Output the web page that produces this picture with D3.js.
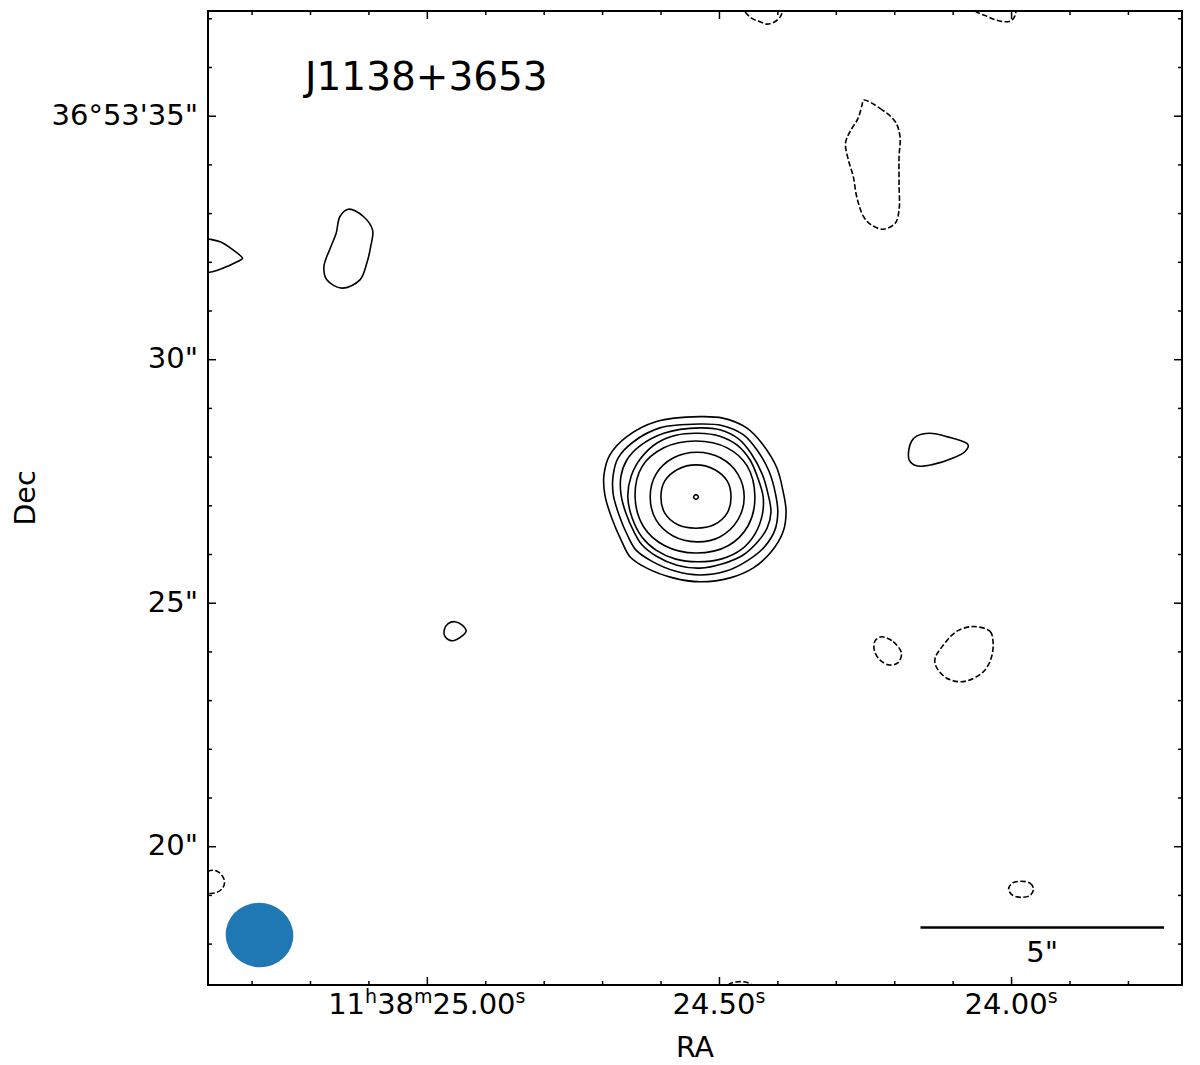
<!DOCTYPE html>
<html>
<head>
<meta charset="utf-8">
<style>
  body { margin: 0; background: #fff; }
  svg text { font-family: "DejaVu Sans", sans-serif; fill: #000; }
  .contour { fill: none; stroke: #000; stroke-width: 1.6px; }
  .neg { stroke-dasharray: 5.5, 2.4; }
  .tick line { stroke: #000; stroke-width: 1.5px; }
</style>
</head>
<body>
<svg width="1200" height="1065"></svg>
<script src="https://cdn.jsdelivr.net/npm/d3@7/dist/d3.min.js"></script>
<script>

// field: centre of map in RA seconds (11h38m..) and Dec arcsec (+36d53'..), size in arcsec
var raCenter = 24.541,
    decCenter = 27.15,
    decDegrees = 36.892,
    fieldSize = 20;

var raMajor = [25.00, 24.50, 24.00],
    raMinor = [25.3, 25.2, 25.1, 24.9, 24.8, 24.7, 24.6, 24.4, 24.3, 24.2, 24.1, 23.9, 23.8],
    raTickLabels = ["11^h38^m25.00^s", "24.50^s", "24.00^s"];

var decMajor = [20, 25, 30, 35],
    decMinor = [18, 19, 21, 22, 23, 24, 26, 27, 28, 29, 31, 32, 33, 34, 36, 37],
    decTickLabels = ['20"', '25"', '30"', '36°53\'35"'];

var title = "J1138+3653";
var beam = {major: 1.39, minor: 1.32, pa: 80}; // arcsec, degrees
var scaleBar = 5; // arcsec

// contours: [east offset, north offset] in arcsec from the map centre
// positive levels (solid)
var core1 = [[-0.10,1.67],[-0.57,1.64],[-1.06,1.44],[-1.40,1.09],[-1.68,0.62],[-1.81,0.13],[-1.87,-0.28],[-1.81,-0.69],[-1.57,-1.10],[-1.19,-1.44],[-0.72,-1.64],[-0.10,-1.72],[0.45,-1.64],[0.99,-1.44],[1.33,-1.21],[1.50,-0.90],[1.71,-0.41],[1.85,0.06],[1.87,0.47],[1.75,0.88],[1.40,1.26],[0.79,1.57]];
var core2 = [[-0.10,1.52],[-0.55,1.49],[-0.99,1.30],[-1.27,0.99],[-1.52,0.55],[-1.65,0.10],[-1.70,-0.29],[-1.64,-0.66],[-1.42,-1.01],[-1.07,-1.29],[-0.64,-1.50],[-0.10,-1.58],[0.41,-1.50],[0.90,-1.29],[1.21,-1.07],[1.38,-0.78],[1.56,-0.35],[1.68,0.08],[1.68,0.47],[1.58,0.82],[1.27,1.15],[0.72,1.44]];
var core3 = [[-0.10,1.44],[-0.51,1.40],[-0.90,1.21],[-1.15,0.92],[-1.38,0.49],[-1.50,0.08],[-1.56,-0.29],[-1.48,-0.62],[-1.27,-0.92],[-0.99,-1.17],[-0.57,-1.35],[-0.10,-1.44],[0.37,-1.38],[0.80,-1.19],[1.09,-0.96],[1.25,-0.70],[1.42,-0.31],[1.52,0.08],[1.52,0.45],[1.40,0.78],[1.13,1.07],[0.64,1.33]];
var core4 = [[-0.06,1.33],[-0.51,1.27],[-0.86,1.09],[-1.13,0.78],[-1.29,0.41],[-1.40,0.02],[-1.38,-0.35],[-1.23,-0.74],[-0.96,-1.05],[-0.55,-1.25],[-0.06,-1.31],[0.41,-1.25],[0.80,-1.07],[1.09,-0.80],[1.29,-0.41],[1.38,0.02],[1.31,0.45],[1.11,0.82],[0.78,1.13],[0.39,1.29]];
var core5 = [[-0.02,1.17],[-0.66,1.03],[-1.07,0.66],[-1.23,0.02],[-1.09,-0.57],[-0.68,-0.98],[-0.02,-1.13],[0.62,-0.98],[1.05,-0.60],[1.23,0.02],[1.09,0.64],[0.64,1.03]];
var core6 = [[-0.04,0.94],[-0.53,0.82],[-0.88,0.49],[-1.01,0.02],[-0.88,-0.45],[-0.51,-0.80],[-0.04,-0.90],[0.45,-0.78],[0.80,-0.45],[0.92,0.02],[0.80,0.49],[0.45,0.82]];
var core7 = [[-0.02,0.68],[-0.39,0.59],[-0.66,0.35],[-0.74,0.02],[-0.66,-0.31],[-0.39,-0.55],[-0.02,-0.62],[0.35,-0.55],[0.62,-0.31],[0.70,0.02],[0.62,0.35],[0.35,0.59]];
var corePeak = [[-0.02,0.07],[-0.07,0.02],[-0.02,-0.03],[0.03,0.02]];
var blobWest = [[10.27,5.36],[10.00,5.32],[9.75,5.26],[9.48,5.09],[9.34,4.98],[9.29,4.92],[9.38,4.86],[9.57,4.77],[9.82,4.67],[10.00,4.63],[10.27,4.62],[10.59,4.99]];
var blobNW = [[7.12,5.93],[6.81,5.78],[6.62,5.50],[6.66,5.16],[6.74,4.82],[6.88,4.48],[7.25,4.31],[7.56,4.48],[7.62,4.75],[7.49,5.13],[7.37,5.43],[7.29,5.78]];
var blobSW = [[4.93,-2.54],[4.78,-2.61],[4.70,-2.73],[4.78,-2.83],[4.99,-2.93],[5.13,-2.85],[5.15,-2.71],[5.07,-2.58]];
var blobE = [[-4.55,1.27],[-4.82,1.33],[-5.17,1.26],[-5.61,1.09],[-5.54,0.95],[-5.30,0.82],[-4.89,0.69],[-4.55,0.66],[-4.40,0.78],[-4.39,0.99],[-4.45,1.17]];

// negative levels (dashed)
var negNorth = [[-3.46,8.17],[-3.80,8.00],[-4.11,7.73],[-4.21,7.42],[-4.19,7.01],[-4.19,6.46],[-4.19,5.91],[-4.11,5.64],[-3.87,5.52],[-3.63,5.60],[-3.46,5.78],[-3.32,6.19],[-3.25,6.60],[-3.15,6.94],[-3.09,7.28],[-3.18,7.52],[-3.35,7.80],[-3.43,8.07]];
var negTopA = [[-0.92,10.18],[-1.03,9.98],[-1.17,9.85],[-1.33,9.78],[-1.48,9.73],[-1.64,9.78],[-1.75,9.88],[-1.80,10.00],[-1.83,10.18],[-1.38,10.39]];
var negTopB = [[-5.69,10.14],[-5.75,10.00],[-5.95,9.91],[-6.16,9.82],[-6.34,9.78],[-6.49,9.80],[-6.57,9.90],[-6.59,10.00],[-6.59,10.16],[-6.16,10.35]];
var negSE1 = [[-3.83,-2.85],[-4.07,-2.95],[-4.24,-3.19],[-4.17,-3.38],[-4.00,-3.43],[-3.80,-3.33],[-3.68,-3.12],[-3.70,-2.93]];
var negSE2 = [[-5.71,-2.64],[-6.06,-2.74],[-6.12,-2.95],[-6.09,-3.26],[-5.92,-3.57],[-5.51,-3.77],[-5.17,-3.70],[-4.95,-3.46],[-4.93,-3.29],[-5.10,-3.02],[-5.37,-2.74]];
var negSW = [[10.20,-7.88],[10.01,-7.67],[9.85,-7.65],[9.72,-7.74],[9.66,-7.88],[9.70,-8.01],[9.82,-8.10],[9.96,-8.12],[10.10,-8.11]];
var negSE3 = [[-6.69,-7.87],[-6.88,-7.91],[-6.95,-8.03],[-6.88,-8.16],[-6.69,-8.20],[-6.51,-8.15],[-6.44,-8.03],[-6.51,-7.91]];
var negSouth = [[-0.64,-10.10],[-0.68,-10.00],[-0.78,-9.95],[-0.92,-9.93],[-1.07,-9.95],[-1.17,-10.00],[-1.21,-10.10],[-0.92,-10.20]];

var posContours = [core1, core2, core3, core4, core5, core6, core7, corePeak, blobWest, blobNW, blobSW, blobE];
var negContours = [negNorth, negTopA, negTopB, negSE1, negSE2, negSW, negSE3, negSouth];

var svg = d3.select("svg"),
    margin = {top: 11, right: 18, bottom: 80, left: 208},
    width = 974,
    height = 974,
    g = svg.append("g").attr("transform", "translate(" + margin.left + "," + margin.top + ")");

var half = fieldSize / 2,
    secPerArcsec = 1 / (15 * Math.cos(decDegrees * Math.PI / 180));

var x = d3.scaleLinear().domain([half, -half]).range([0, width]),
    y = d3.scaleLinear().domain([-half, half]).range([height, 0]),
    ra = d3.scaleLinear().domain([raCenter + half * secPerArcsec, raCenter - half * secPerArcsec]).range([0, width]),
    dec = d3.scaleLinear().domain([decCenter - half, decCenter + half]).range([height, 0]);

g.append("clipPath").attr("id", "clip")
  .append("rect").attr("width", width).attr("height", height);

var line = d3.line()
  .curve(d3.curveCatmullRomClosed.alpha(0.5))
  .x(function(d) { return x(d[0]); })
  .y(function(d) { return y(d[1]); });

var maps = g.append("g").attr("clip-path", "url(#clip)");

maps.selectAll(".pos")
  .data(posContours)
  .enter().append("path")
  .attr("class", "contour pos")
  .attr("d", line);

maps.selectAll(".neg")
  .data(negContours)
  .enter().append("path")
  .attr("class", "contour neg")
  .attr("d", line);

// beam in the lower left corner
var pxPerArcsec = Math.abs(x(1) - x(0));
g.append("ellipse")
  .attr("transform", "translate(51.5,924) rotate(" + (90 - beam.pa) + ")")
  .attr("rx", beam.major / 2 * pxPerArcsec)
  .attr("ry", beam.minor / 2 * pxPerArcsec)
  .attr("fill", "#1f77b4");

// scale bar
var barLen = scaleBar * pxPerArcsec,
    barRight = width - 18,
    barY = 916.5;
g.append("line")
  .attr("x1", barRight - barLen).attr("x2", barRight)
  .attr("y1", barY).attr("y2", barY)
  .attr("stroke", "#000").attr("stroke-width", 2.6);
g.append("text")
  .attr("x", barRight - barLen / 2).attr("y", barY + 34)
  .attr("text-anchor", "middle")
  .style("font-size", "29px")
  .text(scaleBar + '"');

// ticks, all pointing inward
function noDomain(sel) { sel.select(".domain").remove(); }

g.append("g").attr("transform", "translate(0," + height + ")")
  .call(d3.axisBottom(ra).tickValues(raMajor).tickSize(-8).tickFormat("")).call(noDomain);
g.append("g").attr("transform", "translate(0," + height + ")")
  .call(d3.axisBottom(ra).tickValues(raMinor).tickSize(-4).tickFormat("")).call(noDomain);
g.append("g")
  .call(d3.axisTop(ra).tickValues(raMajor).tickSize(-8).tickFormat("")).call(noDomain);
g.append("g")
  .call(d3.axisTop(ra).tickValues(raMinor).tickSize(-4).tickFormat("")).call(noDomain);

g.append("g")
  .attr("class", "axis axis--y")
  .call(d3.axisLeft(dec).tickValues(decMajor).tickSize(-8).tickPadding(10)
    .tickFormat(function(d, i) { return decTickLabels[i]; }))
  .call(noDomain)
  .attr("font-size", null).attr("font-family", null)
  .selectAll("text").style("font-size", "29px").attr("dy", "0.3em");
g.append("g")
  .call(d3.axisLeft(dec).tickValues(decMinor).tickSize(-4).tickFormat("")).call(noDomain);
g.append("g").attr("transform", "translate(" + width + ",0)")
  .call(d3.axisRight(dec).tickValues(decMajor).tickSize(-8).tickFormat("")).call(noDomain);
g.append("g").attr("transform", "translate(" + width + ",0)")
  .call(d3.axisRight(dec).tickValues(decMinor).tickSize(-4).tickFormat("")).call(noDomain);

// RA labels with superscript h, m, s
raMajor.forEach(function(v, i) {
  var t = g.append("text")
    .attr("x", ra(v)).attr("y", height + 29)
    .attr("text-anchor", "middle")
    .style("font-size", "29px");
  var parts = raTickLabels[i].split(/(\^[a-z])/).filter(function(p) { return p.length; });
  var raised = false;
  parts.forEach(function(p) {
    if (p[0] === "^") {
      t.append("tspan").attr("dy", -11).style("font-size", "19px").text(p.slice(1));
      raised = true;
    } else {
      t.append("tspan").attr("dy", raised ? 11 : 0).text(p);
      raised = false;
    }
  });
});

// frame
g.append("rect")
  .attr("width", width).attr("height", height)
  .attr("fill", "none").attr("stroke", "#000").attr("stroke-width", 2);

// title and axis names
g.append("text")
  .attr("x", 97).attr("y", 79)
  .style("font-size", "39px")
  .text(title);

svg.append("text")
  .attr("x", margin.left + width / 2).attr("y", 1057)
  .attr("text-anchor", "middle")
  .style("font-size", "28.5px")
  .text("RA");

svg.append("text")
  .attr("transform", "translate(35," + (margin.top + height / 2) + ") rotate(-90)")
  .attr("text-anchor", "middle")
  .style("font-size", "28.5px")
  .text("Dec");

</script>
</body>
</html>
